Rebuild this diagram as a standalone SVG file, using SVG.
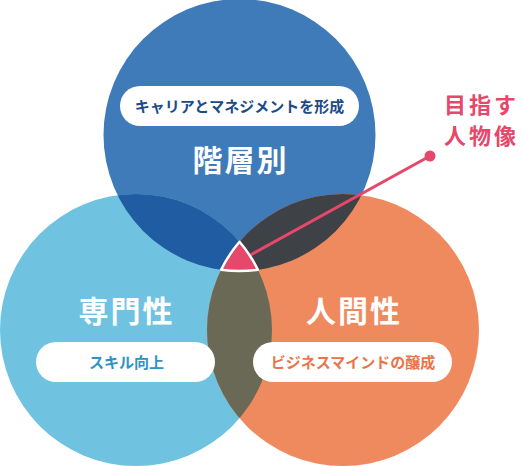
<svg xmlns="http://www.w3.org/2000/svg" width="523" height="466" viewBox="0 0 523 466">
<style>
text{font-family:"Noto Sans CJK JP","Noto Sans",sans-serif;font-weight:700;text-anchor:middle}
.big{font-size:30px;fill:#fff;letter-spacing:2px}
.pill{fill:#fff}
.sub{font-size:15px}
.accent{fill:#e5486a}
.goal{font-size:22px;text-anchor:start;letter-spacing:3px}
</style>
<defs>
<clipPath id="cT"><circle cx="239.5" cy="135" r="136"/></clipPath>
<clipPath id="cL"><circle cx="136" cy="330" r="136"/></clipPath>
</defs>
<g id="circles">
<circle id="top-circle" cx="239.5" cy="135" r="136" fill="#3f7bb9"/>
<circle id="left-circle" cx="136" cy="330" r="136" fill="#6fc3e0"/>
<circle id="right-circle" cx="343" cy="330" r="136" fill="#ef8a5f"/>
<circle cx="136" cy="330" r="136" fill="#1f5ca2" clip-path="url(#cT)"/>
<circle cx="343" cy="330" r="136" fill="#3e4146" clip-path="url(#cT)"/>
<circle cx="343" cy="330" r="136" fill="#6a6955" clip-path="url(#cL)"/>
</g>
<g id="connectors">
<line x1="430" y1="156" x2="245" y2="258" stroke="#e5486a" stroke-width="3"/>
<circle cx="430" cy="156" r="5.5" class="accent"/>
</g>
<g id="center">
<path d="M239.5 241.8 A136 136 0 0 1 257.9 269.7 A136 136 0 0 1 221.1 269.7 A136 136 0 0 1 239.5 241.8 Z" fill="#e5486a" stroke="#fff" stroke-width="2.5" stroke-linejoin="round"/>
</g>
<g id="node-top">
<rect class="pill" x="120" y="86" width="239" height="40" rx="20"/>
<text class="sub" x="239.5" y="111.5" fill="#1d4b87">キャリアとマネジメントを形成</text>
<text class="big" x="240.5" y="171">階層別</text>
</g>
<g id="node-left">
<text class="big" x="126.5" y="322">専門性</text>
<rect class="pill" x="36" y="342" width="179" height="40" rx="20"/>
<text class="sub" x="126.5" y="367.5" fill="#2c93c2">スキル向上</text>
</g>
<g id="node-right">
<text class="big" x="354" y="322">人間性</text>
<rect class="pill" x="253" y="342" width="199" height="40" rx="20"/>
<text class="sub" x="353" y="367.5" fill="#ea7448">ビジネスマインドの醸成</text>
</g>
<g id="node-goal">
<text class="accent goal" x="444" y="113">目指す</text>
<text class="accent goal" x="444" y="144">人物像</text>
</g>
</svg>
